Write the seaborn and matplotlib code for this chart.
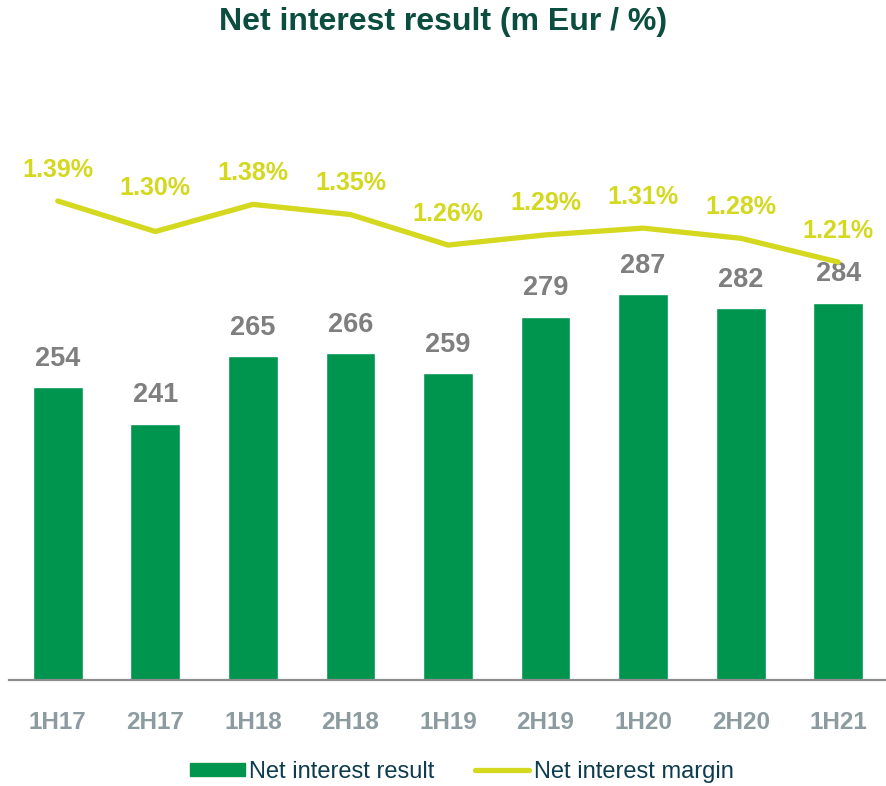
import matplotlib
matplotlib.use("Agg")
import matplotlib.pyplot as plt
import seaborn as sns
import pandas as pd
from matplotlib.lines import Line2D
from matplotlib.patches import Patch

periods = ["1H17", "2H17", "1H18", "2H18", "1H19", "2H19", "1H20", "2H20", "1H21"]
net_interest_result = [254, 241, 265, 266, 259, 279, 287, 282, 284]
net_interest_margin = [1.39, 1.30, 1.38, 1.35, 1.26, 1.29, 1.31, 1.28, 1.21]

df = pd.DataFrame({"period": periods, "nir": net_interest_result, "nim": net_interest_margin})

sns.set_theme(style="white")
plt.rcParams["font.family"] = ["Liberation Sans", "DejaVu Sans"]

BAR = "#00954F"
LINE = "#D4D81E"
TITLE = "#0B4D3E"
TICK = "#8C9BA0"
VAL = "#7F7F7F"
LEG = "#0D3B4F"

# label offsets (points) above the line points
pct_offsets = [14, 23, 14, 14, 14, 14, 14, 14, 14]

fig = plt.figure(figsize=(8.87, 7.86), dpi=100)
ax = fig.add_axes([9 / 887, 1 - 680 / 786, 878 / 887, 620 / 786])

sns.barplot(data=df, x="period", y="nir", color=BAR, width=0.51, ax=ax, saturation=1)
ax.set_ylim(150, 150 + 620 / 2.817)
ax.set_xlim(-0.5, 8.5)
for sp in ["top", "right", "left"]:
    ax.spines[sp].set_visible(False)
ax.spines["bottom"].set_color("#8C8C8C")
ax.spines["bottom"].set_linewidth(1.6)
ax.set_yticks([])
ax.set_xlabel("")
ax.set_ylabel("")
ax.tick_params(axis="x", length=0, pad=22, labelsize=17.5, labelcolor=TICK)
for lab in ax.get_xticklabels():
    lab.set_fontweight("bold")

for i, v in enumerate(net_interest_result):
    ax.annotate(f"{v}", (i, v), xytext=(0, 11), textcoords="offset points",
                ha="center", va="bottom", fontsize=19.5, fontweight="bold", color=VAL)

ax2 = ax.twinx()
sns.lineplot(x=list(range(len(periods))), y=net_interest_margin, color=LINE, linewidth=3.8,
             ax=ax2, solid_capstyle="round")
ax2.set_ylim(1.39 - 479 / 339, 1.39 + 141 / 339)
ax2.set_xlim(-0.5, 8.5)
ax2.set_yticks([])
for sp in ["top", "right", "left", "bottom"]:
    ax2.spines[sp].set_visible(False)
for i, v in enumerate(net_interest_margin):
    ax2.annotate(f"{v:.2f}%", (i, v), xytext=(0, pct_offsets[i]), textcoords="offset points",
                 ha="center", va="bottom", fontsize=18, fontweight="bold", color=LINE)

fig.text(0.5, 1 - 22 / 786, "Net interest result (m Eur / %)", ha="center", va="center",
         fontsize=23, fontweight="bold", color=TITLE)

handles = [Patch(facecolor=BAR, edgecolor=BAR),
           Line2D([0], [0], color=LINE, linewidth=3.8, solid_capstyle="round")]
leg = fig.legend(handles, ["Net interest result", "Net interest margin"],
                 loc="center", bbox_to_anchor=(462 / 887, 1 - 772 / 786), ncol=2, frameon=False,
                 fontsize=17, handlelength=2.3, handleheight=0.5, handletextpad=0.2,
                 columnspacing=1.7)
for t in leg.get_texts():
    t.set_color(LEG)

fig.savefig("out.png", dpi=100)
